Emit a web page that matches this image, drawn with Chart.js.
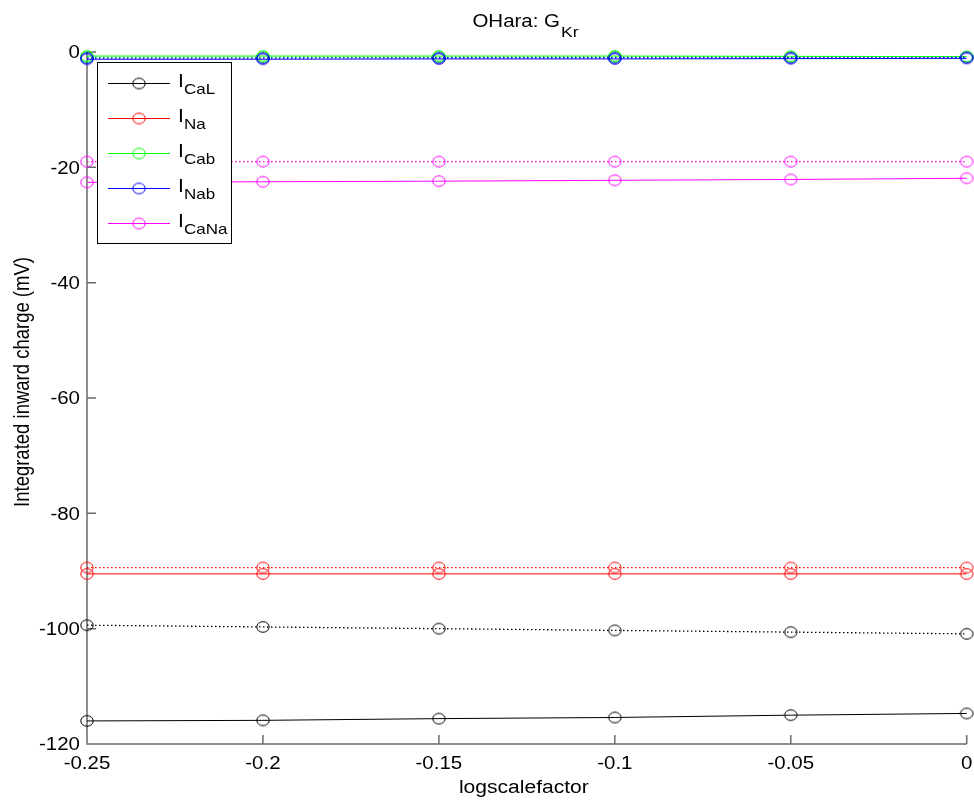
<!DOCTYPE html>
<html>
<head>
<meta charset="utf-8">
<title>OHara: GKr</title>
<script src="https://cdn.jsdelivr.net/npm/chart.js@4.4.1/dist/chart.umd.min.js"></script>
<style>
  html, body { margin: 0; padding: 0; background: #fff; }
  canvas { display: block; }
</style>
</head>
<body>
<canvas id="c" width="974" height="800"></canvas>
<script>
// logscalefactor sweep for G_Kr
var logScale = [-0.25, -0.2, -0.15, -0.1, -0.05, 0];

// integrated inward charge, solid = first run, dotted = second run
var iCaL       = [-116.0, -115.9, -115.6, -115.4, -115.0, -114.7];
var iCaLDot    = [-99.4, -99.7, -100.0, -100.3, -100.6, -100.9];
var iNa        = [-90.5, -90.5, -90.5, -90.5, -90.5, -90.5];
var iNaDot     = [-89.4, -89.4, -89.4, -89.4, -89.4, -89.4];
var iCab       = [-0.7, -0.7, -0.7, -0.7, -0.75, -0.8];
var iCabDot    = [-0.9, -0.9, -0.9, -0.85, -0.85, -0.85];
var iNab       = [-1.25, -1.25, -1.2, -1.2, -1.15, -1.1];
var iNabDot    = [-1.05, -1.05, -1.0, -1.0, -1.0, -0.95];
var iCaNa      = [-22.6, -22.5, -22.4, -22.25, -22.1, -21.9];
var iCaNaDot   = [-19.0, -19.0, -19.0, -19.0, -19.0, -19.0];

var legendNames  = ["CaL", "Na", "Cab", "Nab", "CaNa"];
var lineColors   = ["#000000", "#ff0000", "#00ff00", "#0000ff", "#ff00ff"];
var solidSeries  = [iCaL, iNa, iCab, iNab, iCaNa];
var dottedSeries = [iCaLDot, iNaDot, iCabDot, iNabDot, iCaNaDot];

var xTicks      = [-0.25, -0.2, -0.15, -0.1, -0.05, 0];
var xTickLabels = ["-0.25", "-0.2", "-0.15", "-0.1", "-0.05", "0"];
var yTicks      = [-120, -100, -80, -60, -40, -20, 0];
var yTickLabels = ["-120", "-100", "-80", "-60", "-40", "-20", "0"];

var SX = 1.17;           // glyphs come out a little wide
var FONT = "'Liberation Sans', Arial, sans-serif";
var AXIS_COLOR = "#6a6a6a";

// small open ellipse used as the circle marker
function makeMarker(color) {
  var cv = document.createElement("canvas");
  cv.width = 16; cv.height = 14;
  var g = cv.getContext("2d");
  g.strokeStyle = color;
  g.lineWidth = 1;
  g.beginPath();
  g.ellipse(8, 7, 6.2, 5.3, 0, 0, Math.PI * 2);
  g.stroke();
  return cv;
}
var markers = lineColors.map(makeMarker);

function pts(ys) {
  return ys.map(function(v, i) { return { x: logScale[i], y: v }; });
}

var datasets = [];
legendNames.forEach(function(name, i) {
  [false, true].forEach(function(dotted) {
    var n = datasets.length;
    datasets.push({
      label: "I" + name + (dotted ? " (2)" : ""),
      data: pts(dotted ? dottedSeries[i] : solidSeries[i]),
      borderColor: lineColors[i],
      backgroundColor: lineColors[i],
      borderWidth: dotted ? 1.3 : 1,
      borderDash: dotted ? [1.5, 2.5] : [],
      pointStyle: markers[i],
      pointRadius: 6,
      pointHoverRadius: 6,
      tension: 0,
      fill: false,
      clip: false,
      order: 20 - n          // later series sit on top
    });
  });
});

function wideText(ctx, str, x, y, size, align) {
  ctx.save();
  ctx.font = size + "px " + FONT;
  ctx.translate(x, y);
  ctx.scale(SX, 1);
  ctx.textAlign = align || "left";
  ctx.textBaseline = "alphabetic";
  ctx.fillStyle = "#000";
  ctx.fillText(str, 0, 0);
  ctx.restore();
}

function wideWidth(ctx, str, size) {
  ctx.save();
  ctx.font = size + "px " + FONT;
  var w = ctx.measureText(str).width * SX;
  ctx.restore();
  return w;
}

// ── axes: left + bottom only, ticks pointing inward ─────────────
var axesPlugin = {
  id: "boxAxes",
  beforeDatasetsDraw: function(chart) {
    var ctx = chart.ctx, a = chart.chartArea;
    var xs = chart.scales.x, ys = chart.scales.y;
    ctx.save();
    ctx.strokeStyle = AXIS_COLOR;
    ctx.lineWidth = 1.5;
    ctx.beginPath();
    ctx.moveTo(a.left, a.top);
    ctx.lineTo(a.left, a.bottom);
    ctx.lineTo(a.right, a.bottom);
    xTicks.forEach(function(v) {
      var px = xs.getPixelForValue(v);
      ctx.moveTo(px, a.bottom);
      ctx.lineTo(px, a.bottom - 9);
    });
    yTicks.forEach(function(v) {
      var py = ys.getPixelForValue(v);
      ctx.moveTo(a.left, py);
      ctx.lineTo(a.left + 9, py);
    });
    ctx.stroke();
    ctx.restore();
  },
  afterDatasetsDraw: function(chart) {
    var ctx = chart.ctx;
    // legend box
    var lx = 97.5, ly = 62.5, lw = 134, lh = 181;
    ctx.save();
    ctx.setLineDash([]);
    ctx.fillStyle = "#fff";
    ctx.fillRect(lx, ly, lw, lh);
    ctx.strokeStyle = "#000";
    ctx.lineWidth = 1;
    ctx.strokeRect(lx, ly, lw, lh);
    for (var k = 0; k < legendNames.length; k++) {
      var ry = 83 + 35 * k;
      ctx.strokeStyle = lineColors[k];
      ctx.beginPath();
      ctx.moveTo(108, ry + 0.5);
      ctx.lineTo(170, ry + 0.5);
      ctx.stroke();
      ctx.drawImage(markers[k], 139 - 8, ry + 0.5 - 7);
      wideText(ctx, "I", 178, ry + 4, 18);
      wideText(ctx, legendNames[k], 184, ry + 11, 14.5);
    }
    ctx.restore();
  },
  afterDraw: function(chart) {
    var ctx = chart.ctx, a = chart.chartArea;
    var xs = chart.scales.x, ys = chart.scales.y;
    xTicks.forEach(function(v, i) {
      wideText(ctx, xTickLabels[i], xs.getPixelForValue(v), 769, 17.5, "center");
    });
    yTicks.forEach(function(v, i) {
      wideText(ctx, yTickLabels[i], 80, ys.getPixelForValue(v) + 6.2, 17.5, "right");
    });

    // x label
    wideText(ctx, "logscalefactor", (a.left + a.right) / 2 - 3, 793, 18, "center");

    // y label, rotated
    ctx.save();
    ctx.font = "18.5px " + FONT;
    ctx.translate(28.5, 382);
    ctx.rotate(-Math.PI / 2);
    ctx.scale(1, SX);
    ctx.textAlign = "center";
    ctx.fillStyle = "#000";
    ctx.fillText("Integrated inward charge (mV)", 0, 0);
    ctx.restore();

    // title with subscript
    var main = "OHara: G", sub = "Kr";
    var wMain = wideWidth(ctx, main, 17.5), wSub = wideWidth(ctx, sub, 15);
    var tx = 525 - (wMain + wSub) / 2;
    wideText(ctx, main, tx, 27, 17.5);
    wideText(ctx, sub, tx + wMain + 1, 37, 15);
  }
};

new Chart(document.getElementById("c").getContext("2d"), {
  type: "line",
  data: { datasets: datasets },
  options: {
    responsive: false,
    animation: false,
    devicePixelRatio: 1,
    layout: { padding: { left: 87, right: 7, top: 52, bottom: 56 } },
    events: [],
    plugins: { legend: { display: false }, tooltip: { enabled: false }, title: { display: false } },
    scales: {
      x: { type: "linear", min: -0.25, max: 0, display: false },
      y: { type: "linear", min: -120, max: 0, display: false }
    }
  },
  plugins: [axesPlugin]
});
</script>
</body>
</html>
